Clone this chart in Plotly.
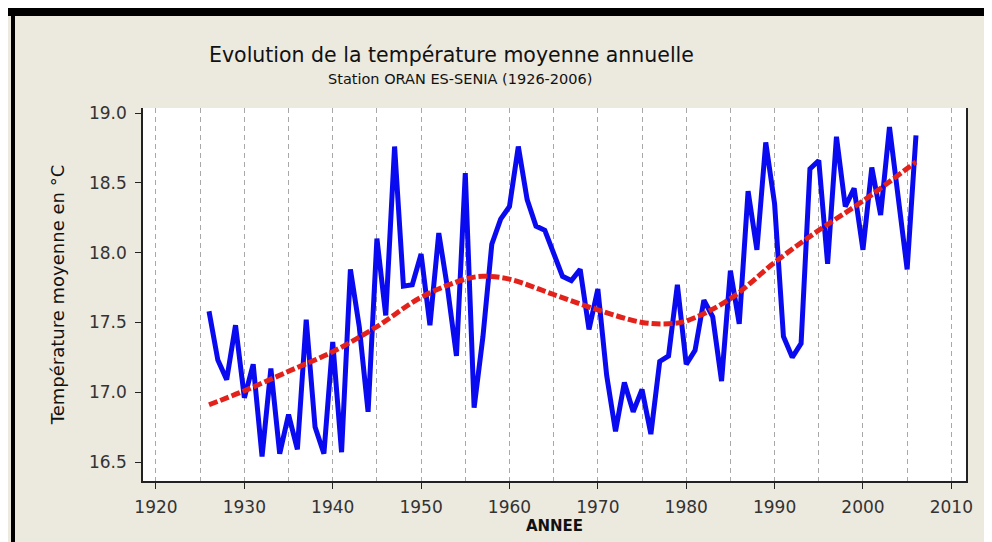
import plotly.graph_objects as go

# ---- data ----
years = list(range(1926, 2007))
temperature = [
    17.58, 17.23, 17.09, 17.48, 16.96, 17.20, 16.54, 17.17, 16.56, 16.84,  # 1926-1935
    16.59, 17.52, 16.75, 16.56, 17.36, 16.57, 17.88, 17.47, 16.86, 18.10,  # 1936-1945
    17.55, 18.76, 17.76, 17.77, 17.99, 17.48, 18.14, 17.74, 17.26, 18.57,  # 1946-1955
    16.89, 17.40, 18.06, 18.24, 18.33, 18.76, 18.38, 18.19, 18.16, 17.99,  # 1956-1965
    17.83, 17.80, 17.88, 17.45, 17.74, 17.12, 16.72, 17.07, 16.86, 17.02,  # 1966-1975
    16.70, 17.22, 17.26, 17.77, 17.20, 17.30, 17.66, 17.54, 17.08, 17.87,  # 1976-1985
    17.49, 18.44, 18.02, 18.79, 18.35, 17.40, 17.25, 17.35, 18.60, 18.66,  # 1986-1995
    17.92, 18.83, 18.33, 18.46, 18.02, 18.61, 18.27, 18.90, 18.40, 17.88,  # 1996-2005
    18.84,                                                                 # 2006
]

trend_years = [1926, 1930, 1935, 1940, 1945, 1950, 1955, 1957, 1960, 1965,
               1970, 1975, 1978, 1980, 1985, 1990, 1995, 2000, 2006]
trend_values = [16.91, 17.01, 17.15, 17.29, 17.47, 17.68, 17.81, 17.83, 17.81, 17.70,
                17.59, 17.50, 17.49, 17.51, 17.67, 17.93, 18.16, 18.37, 18.65]

x_ticks = [1920, 1930, 1940, 1950, 1960, 1970, 1980, 1990, 2000, 2010]
y_ticks = [16.5, 17.0, 17.5, 18.0, 18.5, 19.0]

title_text = "Evolution de la température moyenne annuelle"
subtitle_text = "Station ORAN ES-SENIA (1926-2006)"
x_title = "ANNEE"
y_title = "Température moyenne en °C"

# ---- layout geometry (pixels) ----
W, H = 992, 542
L, R, T, B = 135, 34, 100, 69
PW, PH = W - L - R, H - T - B


def px(xp):
    return (xp - L) / PW


def py(yp):
    return (H - B - yp) / PH


BG = "#ECE9DF"
FONT = "DejaVu Sans"

fig = go.Figure()
fig.add_trace(go.Scatter(
    x=years, y=temperature, mode="lines",
    line=dict(color="#0A0AF0", width=5),
    showlegend=False, hoverinfo="x+y",
))
fig.add_trace(go.Scatter(
    x=trend_years, y=trend_values, mode="lines",
    line=dict(color="#E3221B", width=5, dash="9px,3px", shape="spline", smoothing=1.0),
    showlegend=False, hoverinfo="x+y",
))

fig.update_layout(
    width=W, height=H,
    margin=dict(l=L, r=R, t=T, b=B, pad=0),
    paper_bgcolor=BG, plot_bgcolor="white",
    font=dict(family=FONT, color="#222222"),
    xaxis=dict(
        range=[1918.53, 2011.66],
        tickmode="array", tickvals=x_ticks, ticktext=[str(v) for v in x_ticks],
        ticks="outside", ticklen=6, tickwidth=1.2, tickcolor="#222",
        tickfont=dict(size=17, family=FONT, color="#333"),
        ticklabelstandoff=4,
        showline=True, linecolor="#222", linewidth=1.5, mirror=False,
        showgrid=True, gridcolor="#A8A8A8", gridwidth=1, griddash="5px,4px",
        minor=dict(dtick=5, tick0=1920, showgrid=True, gridcolor="#A8A8A8",
                   gridwidth=1, griddash="5px,4px", ticks=""),
        zeroline=False,
        title=dict(text="<b>" + x_title + "</b>", font=dict(size=15, family=FONT, color="#111"),
                   standoff=4),
    ),
    yaxis=dict(
        range=[16.364, 19.036],
        tickmode="array", tickvals=y_ticks, ticktext=[f"{v:.1f}" for v in y_ticks],
        ticks="outside", ticklen=6, tickwidth=1.2, tickcolor="#222",
        tickfont=dict(size=17, family=FONT, color="#333"),
        ticklabelstandoff=5,
        showline=True, linecolor="#222", linewidth=1.5, mirror=True,
        showgrid=False, zeroline=False,
        title=dict(text=y_title, font=dict(size=18, family=FONT, color="#111"), standoff=20),
    ),
    annotations=[
        dict(text=title_text, xref="paper", yref="paper", x=px(443), y=py(47),
             xanchor="center", yanchor="middle", showarrow=False,
             font=dict(size=20.5, family=FONT, color="#111")),
        dict(text=subtitle_text, xref="paper", yref="paper", x=px(452), y=py(71),
             xanchor="center", yanchor="middle", showarrow=False,
             font=dict(size=14.5, family=FONT, color="#111")),
    ],
    shapes=[
        dict(type="rect", xref="paper", yref="paper", x0=px(0), x1=px(W), y0=py(8), y1=py(0),
             fillcolor="black", line=dict(width=0), layer="above"),
        dict(type="rect", xref="paper", yref="paper", x0=px(3), x1=px(7), y0=py(H), y1=py(0),
             fillcolor="black", line=dict(width=0), layer="above"),
    ],
)

fig.write_html("out.html")
